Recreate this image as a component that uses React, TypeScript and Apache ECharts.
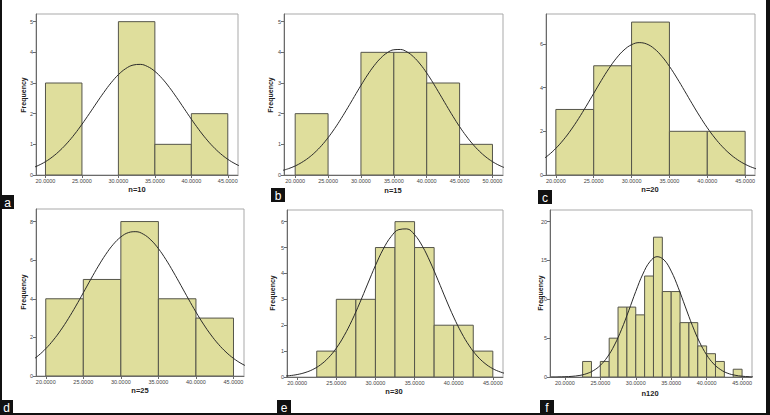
import React, { useEffect, useRef } from "react";
import * as echarts from "echarts";

// ---------------- data ----------------
const aEdges = [20, 25, 30, 35, 40, 45];
const aCounts = [3, 0, 5, 1, 2];
const bEdges = [20, 25, 30, 35, 40, 45, 50];
const bCounts = [2, 0, 4, 4, 3, 1];
const cEdges = [20, 25, 30, 35, 40, 45];
const cCounts = [3, 5, 7, 2, 2];
const dEdges = [20, 25, 30, 35, 40, 45];
const dCounts = [4, 5, 8, 4, 3];
const eEdges = [22.5, 25, 27.5, 30, 32.5, 35, 37.5, 40, 42.5, 45];
const eCounts = [1, 3, 3, 5, 6, 5, 2, 2, 1];
const fEdges = [22.5, 23.75, 25, 26.25, 27.5, 28.75, 30, 31.25, 32.5, 33.75, 35, 36.25, 37.5, 38.75, 40, 41.25, 42.5, 43.75, 45];
const fCounts = [2, 0, 2, 5, 9, 9, 8, 13, 18, 11, 11, 7, 7, 4, 3, 2, 0, 1];

// normal curves
const curveX = [18, 19, 20, 21, 22, 23, 24, 25, 26, 27, 28, 29, 30, 31, 32, 33, 34, 35, 36, 37, 38, 39, 40, 41, 42, 43, 44, 45, 46, 47, 48];
const bCurveX = [18, 19, 20, 21, 22, 23, 24, 25, 26, 27, 28, 29, 30, 31, 32, 33, 34, 35, 36, 37, 38, 39, 40, 41, 42, 43, 44, 45, 46, 47, 48, 49, 50, 51, 52];
const fCurveX = [18, 19, 20, 21, 22, 23, 24, 25, 26, 27, 28, 29, 30, 31, 32, 33, 34, 35, 36, 37, 38, 39, 40, 41, 42, 43, 44, 45, 46, 47];
const aCurveY = [0.213, 0.309, 0.435, 0.599, 0.803, 1.048, 1.333, 1.653, 1.996, 2.348, 2.692, 3.007, 3.272, 3.469, 3.584, 3.607, 3.537, 3.38, 3.146, 2.854, 2.522, 2.172, 1.822, 1.49, 1.186, 0.92, 0.696, 0.513, 0.368, 0.257, 0.175];
const bCurveY = [0.144, 0.208, 0.295, 0.41, 0.555, 0.737, 0.957, 1.217, 1.514, 1.843, 2.196, 2.56, 2.921, 3.262, 3.564, 3.811, 3.988, 4.084, 4.093, 4.014, 3.852, 3.618, 3.326, 2.992, 2.633, 2.268, 1.912, 1.577, 1.274, 1.006, 0.778, 0.588, 0.436, 0.316, 0.224];
const cCurveY = [0.65, 0.903, 1.221, 1.608, 2.064, 2.582, 3.146, 3.735, 4.321, 4.87, 5.348, 5.722, 5.965, 6.059, 5.996, 5.782, 5.432, 4.972, 4.435, 3.854, 3.263, 2.691, 2.163, 1.694, 1.293, 0.961, 0.696, 0.491, 0.338, 0.227, 0.148];
const dCurveY = [0.766, 1.054, 1.415, 1.856, 2.375, 2.968, 3.62, 4.311, 5.013, 5.69, 6.306, 6.821, 7.203, 7.427, 7.475, 7.345, 7.046, 6.599, 6.033, 5.384, 4.692, 3.991, 3.314, 2.687, 2.127, 1.643, 1.24, 0.913, 0.656, 0.46, 0.315];
const eCurveY = [0.026, 0.051, 0.095, 0.17, 0.29, 0.475, 0.744, 1.113, 1.595, 2.185, 2.864, 3.59, 4.306, 4.941, 5.423, 5.694, 5.72, 5.496, 5.052, 4.442, 3.737, 3.007, 2.314, 1.704, 1.201, 0.809, 0.522, 0.321, 0.19, 0.107, 0.058];
const fCurveY = [0.005, 0.013, 0.035, 0.085, 0.19, 0.41, 0.81, 1.5, 2.58, 4.12, 6.14, 8.52, 11.01, 13.25, 14.85, 15.49, 15.06, 13.63, 11.49, 9.02, 6.6, 4.49, 2.85, 1.68, 0.93, 0.47, 0.23, 0.1, 0.04, 0.02];

// tick labels
const xTicks45 = [20, 25, 30, 35, 40, 45];
const xTicks50 = [20, 25, 30, 35, 40, 45, 50];
const yTicksA = [0, 1, 2, 3, 4, 5];
const yTicksB = [0, 1, 2, 3, 4, 5];
const yTicksC = [0, 2, 4, 6];
const yTicksD = [0, 2, 4, 6, 8];
const yTicksE = [0, 1, 2, 3, 4, 5, 6];
const yTicksF = [0, 5, 10, 15, 20];

const titles = ["n=10", "n=15", "n=20", "n=25", "n=30", "n120"];
const letters = ["a", "b", "c", "d", "e", "f"];
const yTitle = "Frequency";

// ---------------- layout ----------------
const panels = [
  { edges: aEdges, counts: aCounts, cx: curveX, cy: aCurveY, xt: xTicks45, yt: yTicksA,
    left: 36, top: 14, width: 202, height: 161, xMin: 18.7, xMax: 46.4, yMax: 5.25,
    freq: [23, 95], title: [137, 189], box: [1, 195, 13, 14] },
  { edges: bEdges, counts: bCounts, cx: bCurveX, cy: bCurveY, xt: xTicks50, yt: yTicksB,
    left: 284, top: 14, width: 219, height: 161, xMin: 18.3, xMax: 51.6, yMax: 5.25,
    freq: [270, 95], title: [393, 190], box: [271, 188, 14, 14] },
  { edges: cEdges, counts: cCounts, cx: curveX, cy: cCurveY, xt: xTicks45, yt: yTicksC,
    left: 546, top: 14, width: 209, height: 161, xMin: 18.7, xMax: 46.3, yMax: 7.37,
    freq: null, title: [650, 189], box: [538, 190, 14, 14] },
  { edges: dEdges, counts: dCounts, cx: curveX, cy: dCurveY, xt: xTicks45, yt: yTicksD,
    left: 36, top: 209, width: 208, height: 167, xMin: 18.7, xMax: 46.4, yMax: 8.65,
    freq: [23, 292], title: [140, 390], box: [0, 400, 13, 14] },
  { edges: eEdges, counts: eCounts, cx: curveX, cy: eCurveY, xt: xTicks45, yt: yTicksE,
    left: 287, top: 210, width: 216, height: 167, xMin: 18.7, xMax: 46.3, yMax: 6.45,
    freq: [272, 293], title: [394, 391], box: [277, 400, 14, 14] },
  { edges: fEdges, counts: fCounts, cx: fCurveX, cy: fCurveY, xt: xTicks45, yt: yTicksF,
    left: 550, top: 210, width: 202, height: 167, xMin: 17.9, xMax: 46.4, yMax: 21.5,
    freq: [540, 293], title: [650, 393], box: [540, 400, 14, 14] },
];

const BAR_FILL = "#dfde9c";
const BAR_STROKE = "#55554a";
const TICK_FONT = "'Liberation Sans Narrow', 'Liberation Sans', Arial, sans-serif";
const FONT = "'Liberation Sans', Arial, sans-serif";

export default function App() {
  const ref = useRef<HTMLDivElement>(null);

  useEffect(() => {
    if (!ref.current) return;
    const chart = echarts.init(ref.current, null, { renderer: "svg" });

    const grid: any[] = [];
    const xAxis: any[] = [];
    const yAxis: any[] = [];
    const series: any[] = [];
    const graphic: any[] = [];

    panels.forEach((p, i) => {
      grid.push({
        left: p.left, top: p.top, width: p.width, height: p.height,
        show: true, borderColor: "#a9a9a9", borderWidth: 1, backgroundColor: "#ffffff",
        containLabel: false, outerBoundsMode: "none",
      });
      xAxis.push({
        gridIndex: i, type: "value", min: p.xMin, max: p.xMax,
        axisLine: { show: true, onZero: false, lineStyle: { color: "#6a6a6a", width: 1 } },
        axisTick: { show: true, length: 3, customValues: p.xt, lineStyle: { color: "#6a6a6a" } },
        axisLabel: {
          show: true, customValues: p.xt, margin: 3, fontSize: 5.5, color: "#444",
          fontFamily: TICK_FONT, formatter: (v: number) => v.toFixed(4),
        },
        splitLine: { show: false },
      });
      yAxis.push({
        gridIndex: i, type: "value", min: 0, max: p.yMax,
        axisLine: { show: true, onZero: false, lineStyle: { color: "#6a6a6a", width: 1 } },
        axisTick: { show: true, length: 3, customValues: p.yt, lineStyle: { color: "#6a6a6a" } },
        axisLabel: {
          show: true, customValues: p.yt, margin: 3, fontSize: 5.5, color: "#444",
          fontFamily: TICK_FONT,
        },
        splitLine: { show: false },
      });

      const bars: number[][] = [];
      p.counts.forEach((c, k) => {
        if (c > 0) bars.push([p.edges[k], p.edges[k + 1], c]);
      });
      series.push({
        type: "custom", xAxisIndex: i, yAxisIndex: i, clip: true,
        encode: { x: [0, 1], y: 2 },
        data: bars,
        renderItem: (params: any, api: any) => {
          const p0 = api.coord([api.value(0), 0]);
          const p1 = api.coord([api.value(1), api.value(2)]);
          return {
            type: "rect",
            shape: { x: p0[0], y: p1[1], width: p1[0] - p0[0], height: p0[1] - p1[1] },
            style: { fill: BAR_FILL, stroke: BAR_STROKE, lineWidth: 1 },
          };
        },
        z: 2,
      });
      series.push({
        type: "line", xAxisIndex: i, yAxisIndex: i,
        data: p.cx.map((x, k) => [x, p.cy[k]]),
        smooth: 0.4, showSymbol: false, symbol: "none", clip: true,
        lineStyle: { color: "#2a2a2a", width: 1 },
        z: 3,
      });

      if (p.freq) {
        graphic.push({
          type: "text", x: p.freq[0], y: p.freq[1], rotation: Math.PI / 2,
          style: { text: yTitle, fontSize: 7, fontWeight: "bold", fill: "#222", fontFamily: FONT,
            align: "center", verticalAlign: "middle" },
        });
      }
      graphic.push({
        type: "text", x: p.title[0], y: p.title[1],
        style: { text: titles[i], fontSize: 7.5, fontWeight: "bold", fill: "#222", fontFamily: FONT,
          align: "center", verticalAlign: "middle" },
      });
      graphic.push({
        type: "rect", shape: { x: p.box[0], y: p.box[1], width: p.box[2], height: p.box[3] },
        style: { fill: "#111" },
      });
      graphic.push({
        type: "text", x: p.box[0] + p.box[2] / 2, y: p.box[1] + p.box[3] / 2 + 0.5,
        style: { text: letters[i], fontSize: 12, fill: "#fff", fontFamily: FONT,
          align: "center", verticalAlign: "middle" },
      });
    });

    // outer frame (left, right, bottom)
    graphic.push({ type: "rect", shape: { x: 0, y: 0, width: 2, height: 415 }, style: { fill: "#111" } });
    graphic.push({ type: "rect", shape: { x: 766, y: 0, width: 4, height: 415 }, style: { fill: "#111" } });
    graphic.push({ type: "rect", shape: { x: 0, y: 413, width: 770, height: 2 }, style: { fill: "#111" } });

    chart.setOption({
      animation: false,
      backgroundColor: "#ffffff",
      grid, xAxis, yAxis, series, graphic,
    });

    return () => chart.dispose();
  }, []);

  return (
    <div
      ref={ref}
      style={{ position: "fixed", left: 0, top: 0, width: 770, height: 415 }}
    />
  );
}
